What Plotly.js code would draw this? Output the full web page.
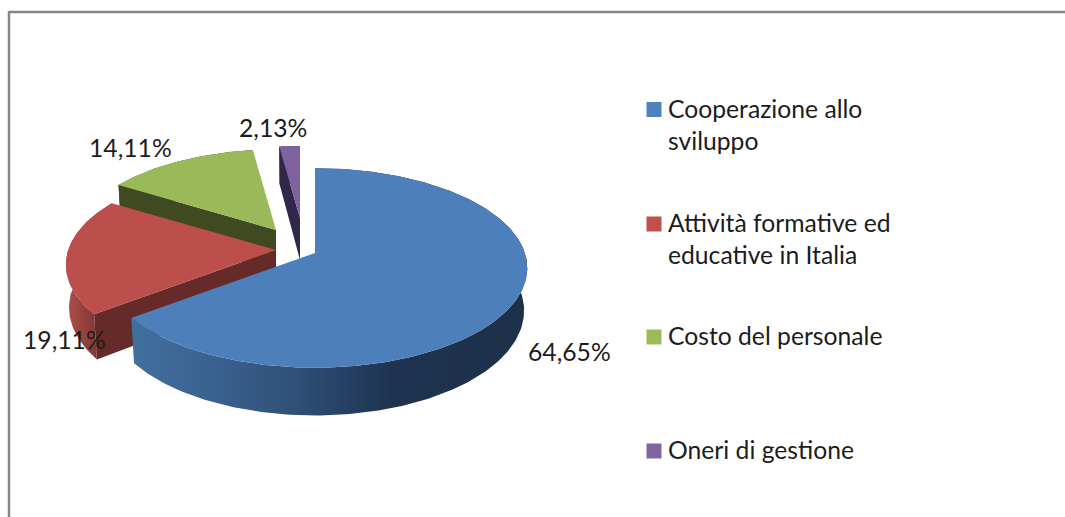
<!DOCTYPE html>
<html><head><meta charset="utf-8">
<script src="https://cdn.plot.ly/plotly-3.0.1.min.js"></script>
<style>html,body{margin:0;padding:0;background:#fff}#chart{width:1065px;height:517px}</style>
</head><body><div id="chart"></div>
<script>
// ---- data ----
const categories = ["Cooperazione allo<br>sviluppo", "Attività formative ed<br>educative in Italia", "Costo del personale", "Oneri di gestione"];
const values = [64.65, 19.11, 14.11, 2.13];

// ---- styles ----
const topColors = ["#4d7fbb", "#bc4f4c", "#9aba59", "#7f63a1"];
const legendColors = ["#4f81bd", "#c0504d", "#9bbb59", "#8064a2"];
const edgeColors = [null, "#662a28", "#3f4a21", "#312749"];
const wallScales = [
  [[0,"#41709f"],[0.2,"#3a6290"],[0.41,"#2f5078"],[0.66,"#1e3350"],[1,"#1c3049"]],
  [[0,"#ad4e4a"],[0.14,"#a54a46"],[1,"#662a28"]],
  [[0,"#3f4a21"],[1,"#3f4a21"]],
  [[0,"#312749"],[1,"#312749"]]
];
// screen position of each slice's tip, its scale, and the label / legend positions
const tips = [[315,253],[276,250],[276,230],[300,218]];
const scales = [0.99,0.98,0.94,0.84];
const labelPos = [[569,351],[64,339],[130,147],[273,127]];
const legendY = [109.5,224,337,451];
const legendTop = [93,207,320,434];
const drawOrder = [2,3,1,0];

// perspective projection of the tilted disc
const A = 212, B = 98.5, P = 0.15, D = 42, S = 0.985;
function rim(i, deg, lower) {
  const t = deg*Math.PI/180, X = Math.sin(t), Y = -Math.cos(t), d = 1-P*Y;
  const k = scales[i]*(lower?S:1);
  return [tips[i][0]+k*A*X/d, tips[i][1]+k*B*Y/d+(lower?D/d:0)];
}
function arc(i, a, b, lower) {
  const n = Math.max(2, Math.ceil(Math.abs(b-a))), pts = [];
  for (let j=0;j<=n;j++) pts.push(rim(i, a+(b-a)*j/n, lower));
  return pts;
}
function poly(pts, extra, name) {
  return Object.assign({type:"scatter", mode:"lines", x:pts.map(p=>p[0]), y:pts.map(p=>p[1]),
    fill:"toself", line:{width:0}, showlegend:false, hoverinfo:"skip", name:name}, extra);
}
const starts = []; let cum = 0;
values.forEach(v=>{ starts.push(cum); cum += v; });
const traces = [];
drawOrder.forEach(i=>{
  const a = starts[i]/cum*360, b = (starts[i]+values[i])/cum*360;
  const tip = tips[i], tipLow = [tip[0], tip[1]+D];
  traces.push(poly(arc(i,a,b,false).concat(arc(i,b,a,true)),
    {fillcolor:wallScales[i][0][1], fillgradient:{type:"horizontal", colorscale:wallScales[i]}}, "wall"));
  if (edgeColors[i]) traces.push(poly([tip, rim(i,a,false), rim(i,a,true), tipLow], {fillcolor:edgeColors[i]}, "edge"));
  traces.push(poly([tip].concat(arc(i,a,b,false)), {fillcolor:topColors[i]}, categories[i]));
});
traces.push({type:"scatter", mode:"markers", x:legendColors.map(()=>654), y:legendY, hoverinfo:"skip", showlegend:false,
  marker:{symbol:"square", size:15, color:legendColors, line:{width:0}}});

const font = {family:"Lato, 'Open Sans', sans-serif", size:24.7, color:"#1c1c1c"};
const annotations = [];
values.forEach((v,i)=>annotations.push({xref:"x", yref:"y", x:labelPos[i][0], y:labelPos[i][1], showarrow:false,
  text:v.toFixed(2).replace(".",",")+"%", font:font, xanchor:"center", yanchor:"middle"}));
categories.forEach((c,i)=>annotations.push({xref:"x", yref:"y", x:667, y:legendTop[i], showarrow:false, align:"left",
  text:c, font:font, xanchor:"left", yanchor:"top", borderpad:0}));

const frame = {color:"#868686", width:2.5};
Plotly.newPlot("chart", traces, {
  width:1065, height:517, margin:{l:0,r:0,t:0,b:0}, paper_bgcolor:"#fff", plot_bgcolor:"#fff", showlegend:false,
  xaxis:{range:[0,1065], visible:false, fixedrange:true},
  yaxis:{range:[517,0], visible:false, fixedrange:true},
  shapes:[
    {type:"line", xref:"x", yref:"y", x0:9, x1:1065, y0:12, y1:12, line:frame},
    {type:"line", xref:"x", yref:"y", x0:9, x1:9, y0:11, y1:517, line:frame}
  ],
  annotations:annotations
}, {displayModeBar:false, staticPlot:true});
</script></body></html>
